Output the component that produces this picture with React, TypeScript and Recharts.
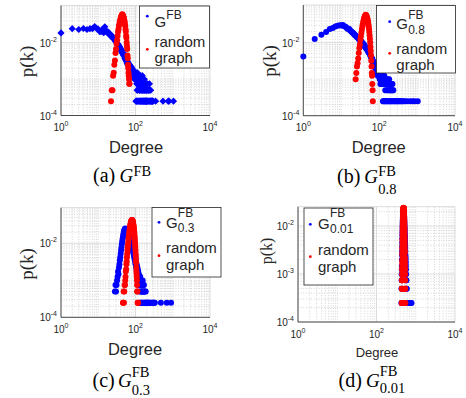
import React from "react";
import { ScatterChart, Scatter, XAxis, YAxis, CartesianGrid } from "recharts";

const NODES = 4039;
const BLUE = "#0000ff";
const RED = "#ff0000";
const INK = "#262626";
const SANS = "'Liberation Sans', Arial, sans-serif";
const SERIF = "'Liberation Serif', 'Times New Roman', serif";

// node counts per degree (p(k) = count / NODES)
const blueRunA = [
  75, 98, 93, 99, 93, 98, 98, 111, 100, 95,
  81, 82, 94, 76, 110, 84, 79, 82, 72, 68,
  69, 60, 63, 57, 55, 53, 49, 51, 44, 45,
  41, 39, 38, 34, 35, 31, 32, 28, 27, 28,
  25, 23, 25, 21, 22, 20, 21, 18, 19, 17,
  18, 15, 17, 14, 15, 13, 14, 12, 13, 11,
  12, 10, 11, 10, 11, 9, 10, 9, 10, 8,
  9, 8, 9, 8, 7, 9, 7, 8, 7, 6,
  8, 7, 6, 7, 6, 7, 5, 6, 7, 5,
  6, 5, 6, 4, 6, 5, 4, 6, 5, 4,
];
const blueTailA = [
  [102, 5], [103, 1], [104, 6], [105, 4], [106, 1], [107, 5], [108, 3], [109, 1], [110, 5], [111, 2],
  [112, 4], [113, 6], [114, 2], [115, 3], [116, 1], [117, 4], [118, 5], [120, 3], [121, 1], [122, 4],
  [124, 5], [125, 2], [126, 1], [127, 4], [129, 3], [130, 2], [131, 5], [133, 2], [134, 1], [135, 4],
  [137, 3], [138, 1], [139, 4], [141, 2], [142, 1], [143, 3], [145, 4], [147, 2], [148, 1], [150, 3],
  [152, 5], [153, 1], [155, 2], [157, 3], [158, 1], [160, 4], [162, 2], [163, 1], [165, 3], [167, 1],
  [168, 2], [170, 3], [172, 1], [173, 4], [176, 2], [178, 1], [179, 3], [182, 2], [183, 1], [185, 3],
  [188, 1], [190, 1], [191, 2], [194, 3], [196, 1], [197, 2], [200, 1], [202, 1], [204, 2], [208, 3],
  [211, 1], [215, 2], [219, 1], [223, 2], [228, 2], [232, 1], [236, 3], [240, 1], [245, 2], [250, 1],
  [254, 2], [260, 1], [266, 1], [272, 1], [280, 1], [291, 1], [294, 1], [347, 1], [547, 1], [755, 1],
  [792, 1], [1045, 1],
];
const redRunA = [
  1, 2, 2, 5, 6, 10, 13, 21, 27, 38,
  47, 63, 80, 94, 117, 131, 156, 170, 192, 203,
  221, 230, 244, 236, 226, 215, 196, 188, 165, 152,
  129, 118, 94, 82, 63, 55, 41, 33, 27, 18,
  15, 10, 8, 6, 5, 4, 3, 3,
];

const blueRunB = [
  17, 51, 67, 80, 96, 103, 112, 117, 121, 119,
  124, 114, 110, 103, 96, 97, 89, 84, 80, 76,
  73, 68, 66, 63, 61, 57, 56, 54, 51, 50,
  47, 46, 44, 43, 41, 40, 38, 38, 36, 35,
  34, 32, 31, 30, 29, 29, 27, 27, 26, 25,
  24, 23, 22, 22, 21, 20, 20, 19, 18, 18,
  17, 16, 16, 15, 14, 14, 13, 13, 12, 12,
  11, 11, 10, 11, 10, 9, 10, 9, 8, 9,
  8, 8, 7, 8, 7, 7, 6, 7, 6, 7,
  6, 6, 5, 6, 5, 6, 5, 5, 6, 5,
];
const blueTailB = [
  [102, 5], [104, 4], [106, 5], [108, 3], [110, 4], [112, 5], [114, 3], [116, 4], [118, 4], [120, 3],
  [123, 5], [125, 3], [126, 1], [127, 4], [130, 3], [131, 1], [132, 4], [135, 3], [137, 5], [138, 1],
  [140, 3], [143, 4], [145, 2], [146, 1], [148, 4], [151, 3], [152, 1], [154, 3], [157, 4], [160, 2],
  [161, 1], [163, 3], [166, 4], [169, 2], [170, 1], [172, 3], [175, 3], [179, 2], [180, 1], [183, 4],
  [187, 3], [190, 1], [191, 2], [195, 3], [199, 2], [200, 1], [204, 3], [208, 2], [211, 1], [213, 3],
  [218, 2], [222, 1], [224, 3], [230, 2], [236, 2], [240, 1], [252, 1], [265, 1], [280, 1], [296, 1],
  [312, 1], [330, 1], [350, 1], [372, 1], [400, 1], [430, 1], [470, 1], [540, 1], [650, 1], [760, 1],
  [860, 1], [1040, 1],
];
const redRunB = [
  4, 6, 9, 11, 15, 21, 29, 36, 49, 60,
  75, 92, 110, 128, 146, 166, 184, 198, 214, 226,
  236, 229, 222, 210, 196, 182, 166, 148, 130, 112,
  96, 80, 65, 52, 41, 31, 24, 18, 13, 9,
  6, 5, 3, 2, 1,
];

const blueRunC = [
  2, 3, 2, 3, 4, 5, 7, 6, 9, 11,
  14, 17, 21, 26, 31, 38, 45, 53, 60, 68,
  76, 83, 90, 95, 99, 101, 98, 97, 94, 91,
  88, 86, 83, 80, 78, 75, 72, 70, 67, 64,
  64, 57, 60, 52, 55, 47, 50, 43, 45, 39,
  41, 35, 38, 32, 34, 29, 31, 26, 29, 23,
  26, 21, 24, 19, 22, 17, 20, 15, 18, 14,
  17, 12, 15, 11, 14, 10, 12, 9, 11, 8,
  10, 7, 9, 7, 9, 6, 8, 5, 7, 5,
  7, 4, 6, 4, 6, 3, 5, 4, 5, 3,
  4, 2, 4,
];
const blueTailC = [
  [132, 3], [133, 1], [134, 5], [136, 3], [138, 4], [139, 1], [140, 2], [142, 4], [145, 3], [146, 1],
  [147, 2], [150, 3], [152, 1], [153, 2], [156, 4], [159, 2], [160, 1], [162, 3], [165, 2], [168, 3],
  [170, 1], [172, 2], [176, 1], [180, 2], [184, 1], [188, 2], [193, 1], [198, 1], [204, 1], [210, 1],
  [218, 1], [226, 1], [235, 1], [245, 1], [260, 1], [275, 1], [290, 1], [305, 1], [320, 1], [330, 1],
  [480, 1], [690, 1], [900, 1],
];
const redRunC = [
  1, 1, 2, 1, 2, 3, 3, 4, 5, 7,
  8, 11, 13, 17, 21, 26, 31, 37, 44, 52,
  60, 69, 78, 88, 98, 108, 118, 128, 137, 146,
  154, 161, 166, 170, 172, 171, 169, 165, 159, 152,
  144, 135, 125, 115, 105, 95, 85, 75, 66, 58,
  50, 43, 36, 31, 26, 21, 18, 14, 12, 9,
  7, 6, 5, 4, 3, 2, 2,
];
const redTailC = [[114, 1], [116, 1], [118, 1]];

const blueTailD = [
  [430, 1], [433, 2], [436, 3], [438, 4], [440, 5], [442, 6], [444, 8], [446, 10], [448, 12], [450, 15],
  [452, 18], [454, 22], [456, 26], [458, 30], [460, 35], [462, 40], [464, 45], [466, 50], [468, 55], [470, 60],
  [472, 65], [474, 70], [476, 74], [478, 78], [480, 81], [482, 83], [484, 85], [486, 86], [488, 86], [490, 85],
  [492, 84], [494, 82], [496, 79], [498, 76], [500, 72], [502, 68], [504, 64], [506, 60], [508, 56], [510, 52],
  [512, 48], [514, 44], [516, 40], [518, 37], [520, 34], [522, 31], [524, 28], [526, 26], [528, 24], [530, 22],
  [532, 20], [535, 18], [538, 16], [541, 14], [544, 12], [547, 10], [550, 9], [553, 8], [556, 7], [560, 6],
  [564, 5], [568, 4], [572, 3], [577, 3], [582, 2], [588, 2], [595, 1], [610, 1], [630, 1], [650, 1],
  [680, 1], [710, 1], [730, 1], [780, 1],
];
const redRunD = [
  1, 1, 2, 1, 2, 3, 2, 3, 3, 4,
  5, 6, 5, 7, 8, 11, 10, 13, 14, 16,
  19, 21, 22, 26, 28, 32, 33, 37, 40, 44,
  47, 50, 54, 57, 61, 64, 67, 71, 74, 77,
  80, 83, 85, 87, 90, 92, 93, 94, 95, 96,
  96, 97, 95, 95, 93, 92, 91, 88, 86, 83,
  80, 78, 75, 71, 68, 64, 61, 58, 54, 50,
  47, 44, 40, 37, 34, 32, 28, 26, 23, 21,
  19, 17, 15, 13, 12, 11, 9, 8, 7, 6,
  5, 5, 4, 3, 4, 3, 2, 2, 2, 1,
  1,
];

const X_TICKS = [1, 100, 10000];
const MINOR_X = [
  2, 3, 4, 5, 6, 7, 8, 9, 10, 20, 30, 40, 50, 60, 70, 80, 90,
  200, 300, 400, 500, 600, 700, 800, 900, 1000, 2000, 3000, 4000, 5000, 6000, 7000, 8000, 9000,
];
const MINOR_Y_AB = [
  2e-4, 3e-4, 4e-4, 5e-4, 6e-4, 7e-4, 8e-4, 9e-4, 1e-3, 2e-3, 3e-3, 4e-3, 5e-3, 6e-3, 7e-3, 8e-3, 9e-3,
  2e-2, 3e-2, 4e-2, 5e-2, 6e-2, 7e-2, 8e-2, 9e-2, 0.1,
];
const MINOR_Y_C = [
  2e-4, 3e-4, 4e-4, 5e-4, 6e-4, 7e-4, 8e-4, 9e-4, 1e-3, 2e-3, 3e-3, 4e-3, 5e-3, 6e-3, 7e-3, 8e-3, 9e-3,
  2e-2, 3e-2, 4e-2, 5e-2, 6e-2, 7e-2, 8e-2, 9e-2,
];
const MINOR_Y_D = [
  2e-4, 3e-4, 4e-4, 5e-4, 6e-4, 7e-4, 8e-4, 9e-4, 2e-3, 3e-3, 4e-3, 5e-3, 6e-3, 7e-3, 8e-3, 9e-3, 2e-2,
];

type Pt = { x: number; y: number };
const fromRun = (start: number, counts: number[]): Pt[] =>
  counts.map((c, i) => ({ x: start + i, y: c / NODES }));
const fromPairs = (pairs: number[][]): Pt[] => pairs.map(([d, c]) => ({ x: d, y: c / NODES }));

const circle = (color: string) => (p: any) => <circle cx={p.cx} cy={p.cy} r={3} fill={color} />;
const diamond = (color: string) => (p: any) => {
  const s = 3.6;
  return (
    <polygon
      points={`${p.cx},${p.cy - s} ${p.cx + s},${p.cy} ${p.cx},${p.cy + s} ${p.cx - s},${p.cy}`}
      fill={color}
    />
  );
};

const xTick = (p: any) => (
  <text x={p.x} y={p.y + 15.5} textAnchor="middle" fontFamily={SANS} fontSize={10} fill={INK}>
    <tspan>10</tspan>
    <tspan dy={-5} fontSize={7}>{Math.round(Math.log10(p.payload.value))}</tspan>
  </text>
);
const yTick = (p: any) => (
  <text x={p.x - 4} y={p.y + 4} textAnchor="end" fontFamily={SANS} fontSize={10} fill={INK}>
    <tspan>10</tspan>
    <tspan dy={-5} fontSize={7}>{Math.round(Math.log10(p.payload.value))}</tspan>
  </text>
);

const PANELS = [
  {
    left: 0, top: 0, w: 233, h: 195,
    margin: { top: 5.5, right: 23, bottom: 59.5, left: 31 },
    yDomain: [1e-4, 0.105], yTicks: [1e-4, 1e-2], minorY: MINOR_Y_AB,
    blue: [...fromRun(1, blueRunA), ...fromPairs(blueTailA)],
    red: fromRun(22, redRunA), blueShape: diamond(BLUE),
  },
  {
    left: 233, top: 0, w: 233, h: 195,
    margin: { top: 5, right: 11, bottom: 59.3, left: 40.3 },
    yDomain: [1e-4, 0.108], yTicks: [1e-4, 1e-2], minorY: MINOR_Y_AB,
    blue: [...fromRun(1, blueRunB), ...fromPairs(blueTailB)],
    red: fromRun(24, redRunB), blueShape: circle(BLUE),
  },
  {
    left: 0, top: 195, w: 233, h: 203,
    margin: { top: 12.7, right: 23, bottom: 60.7, left: 31 },
    yDomain: [1e-4, 0.0916], yTicks: [1e-4, 1e-2], minorY: MINOR_Y_C,
    blue: [...fromRun(28, blueRunC), ...fromPairs(blueTailC)],
    red: [...fromRun(46, redRunC), ...fromPairs(redTailC)], blueShape: circle(BLUE),
  },
  {
    left: 233, top: 195, w: 233, h: 203,
    margin: { top: 11.7, right: 11, bottom: 56, left: 35 },
    yDomain: [1e-4, 0.0252], yTicks: [1e-4, 1e-3, 1e-2], minorY: MINOR_Y_D,
    blue: fromPairs(blueTailD),
    red: fromRun(440, redRunD), blueShape: circle(BLUE),
  },
];

function Panel({ cfg }: { cfg: any }) {
  return (
    <div style={{ position: "absolute", left: cfg.left, top: cfg.top }}>
      <ScatterChart width={cfg.w} height={cfg.h} margin={cfg.margin}>
        <CartesianGrid
          stroke="#c4c4c4"
          strokeWidth={0.7}
          strokeDasharray="1 1.6"
          verticalValues={MINOR_X}
          horizontalValues={cfg.minorY}
        />
        <CartesianGrid stroke="#d8d8d8" strokeWidth={0.9} />
        <XAxis
          type="number" dataKey="x" scale="log" domain={[1, 10000]} ticks={X_TICKS}
          interval={0} tickSize={0} tickMargin={0} tickLine={false} height={20}
          axisLine={{ stroke: INK, strokeWidth: 0.8 }} tick={xTick}
        />
        <YAxis
          type="number" dataKey="y" scale="log" domain={cfg.yDomain} ticks={cfg.yTicks}
          interval={0} tickSize={0} tickMargin={0} tickLine={false} width={30}
          axisLine={{ stroke: INK, strokeWidth: 0.8 }} tick={yTick}
        />
        <Scatter data={cfg.blue} shape={cfg.blueShape} isAnimationActive={false} />
        <Scatter data={cfg.red} shape={circle(RED)} isAnimationActive={false} />
      </ScatterChart>
    </div>
  );
}

function LegendBox(props: {
  x: number; y: number; w: number; h: number; dotX: number; blueY: number; redY: number;
  tx: number; gY: number; supX: number; supY: number; sub?: string; subY?: number;
  randomY: number; graphY: number;
}) {
  const p = props;
  return (
    <g fontFamily={SANS} fill={INK}>
      <rect x={p.x} y={p.y} width={p.w} height={p.h} fill="#fff" stroke={INK} strokeWidth={0.8} />
      <circle cx={p.dotX} cy={p.blueY} r={1.4} fill={BLUE} />
      <circle cx={p.dotX} cy={p.redY} r={1.4} fill={RED} />
      <text x={p.tx} y={p.gY} fontSize={15}>G</text>
      <text x={p.supX} y={p.supY} fontSize={12}>FB</text>
      {p.sub && <text x={p.supX} y={p.subY} fontSize={12}>{p.sub}</text>}
      <text x={p.tx} y={p.randomY} fontSize={15}>random</text>
      <text x={p.tx} y={p.graphY} fontSize={15}>graph</text>
    </g>
  );
}

function Caption(props: { lx: number; gx: number; supX: number; base: number; supY: number; label: string; sub?: string; subY?: number }) {
  const p = props;
  return (
    <g fontFamily={SERIF} fill="#000">
      <text x={p.lx} y={p.base} fontSize={20}>{p.label}</text>
      <text x={p.gx} y={p.base} fontSize={19} fontStyle="italic">G</text>
      <text x={p.supX} y={p.supY} fontSize={14.5}>FB</text>
      {p.sub && <text x={p.supX} y={p.subY} fontSize={14.5}>{p.sub}</text>}
    </g>
  );
}

function AxisTitles(props: { px: number; py: number; pSize: number; dx: number; dy: number; dSize: number }) {
  const p = props;
  return (
    <g fill={INK}>
      <text
        x={p.px} y={p.py} fontFamily={SERIF} fontSize={p.pSize} textAnchor="middle"
        dominantBaseline="central" transform={`rotate(-90 ${p.px} ${p.py})`}
      >
        p(k)
      </text>
      <text x={p.dx} y={p.dy} fontFamily={SANS} fontSize={p.dSize} textAnchor="middle">Degree</text>
    </g>
  );
}

export default function App() {
  return (
    <div style={{ position: "absolute", left: 0, top: 0, width: 466, height: 398, background: "#fff", overflow: "hidden" }}>
      {PANELS.map((cfg, i) => (
        <Panel key={i} cfg={cfg} />
      ))}
      <svg width={466} height={398} style={{ position: "absolute", left: 0, top: 0, pointerEvents: "none" }}>
        <AxisTitles px={26} py={61.5} pSize={19} dx={136} dy={153} dSize={16.5} />
        <AxisTitles px={269.7} py={61} pSize={19} dx={378.7} dy={153} dSize={16.5} />
        <AxisTitles px={26.5} py={264} pSize={19} dx={135} dy={355} dSize={16.5} />
        <AxisTitles px={266} py={251} pSize={16} dx={377} dy={357} dSize={13} />

        <LegendBox x={139.5} y={6} w={70} h={62} dotX={147.3} blueY={16.2} redY={49.3}
          tx={154.5} gY={26.5} supX={166.3} supY={18.5} randomY={47} graphY={63} />
        <LegendBox x={376.5} y={5.5} w={79} h={67.5} dotX={389.7} blueY={21.7} redY={53.3}
          tx={396.3} gY={28.5} supX={408.2} supY={18.5} sub="0.8" subY={33.5} randomY={53.5} graphY={70} />
        <LegendBox x={152} y={207.5} w={69} h={69.5} dotX={159} blueY={222.3} redY={255.7}
          tx={166} gY={228.3} supX={177.8} supY={217} sub="0.3" subY={232} randomY={253.3} graphY={270} />
        <LegendBox x={304} y={208} w={69} h={77} dotX={310.3} blueY={224.3} redY={256.7}
          tx={318} gY={228.5} supX={330} supY={216.5} sub="0.01" subY={232.5} randomY={255} graphY={271.7} />

        <Caption lx={93} gx={119.5} supX={133.5} base={182} supY={176} label="(a)" />
        <Caption lx={337} gx={364.2} supX={378.3} base={182.5} supY={175.5} label="(b)" sub="0.8" subY={194} />
        <Caption lx={92.5} gx={118} supX={131.8} base={386.5} supY={376.7} label="(c)" sub="0.3" subY={394.5} />
        <Caption lx={338.5} gx={366} supX={379.8} base={386.5} supY={375.5} label="(d)" sub="0.01" subY={393} />
      </svg>
    </div>
  );
}
